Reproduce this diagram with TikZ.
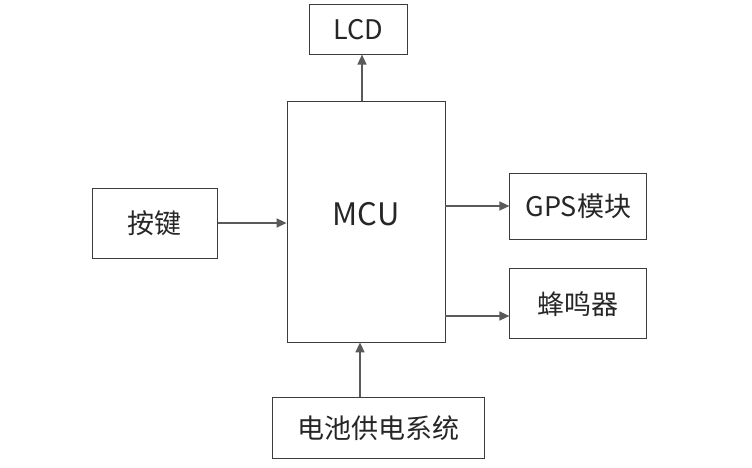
\documentclass[tikz,border=0pt]{standalone}
\usepackage{fontspec}
\setmainfont{Noto Sans CJK SC}
\usetikzlibrary{positioning,arrows.meta}
\definecolor{boxline}{HTML}{3C3C3C}
\definecolor{arrowgray}{HTML}{5A5A5A}

\begin{document}
\begin{tikzpicture}[x=1pt, y=-1pt]
  \tikzstyle{block} = [rectangle, draw=boxline, line width=0.8pt, inner sep=0pt,
                       font=\fontsize{27}{30}\selectfont, text=black!85]
  \tikzstyle{link} = [-{Triangle[length=10pt,width=9pt]}, draw=arrowgray, line width=1.5pt]

\useasboundingbox (0,0) rectangle (752,468);
\node[block, minimum width=158pt, minimum height=241pt,
      label={[font=\fontsize{31}{34}\selectfont, text=black!85, yshift=7pt]center:MCU}] (MCU) at (366,221.5) {};
\node[block, minimum width=98pt, minimum height=50pt, above=46pt of MCU, xshift=-8pt] (lcd) {LCD};
\node[block, minimum width=125pt, minimum height=70pt, left=69pt of MCU, yshift=-1.5pt] (keys) {按键};
\node[block, minimum width=137pt, minimum height=66pt, right=64pt of MCU, yshift=15.5pt] (gps) {GPS模块};
\node[block, minimum width=137pt, minimum height=70pt, below=29pt of gps] (buzzer) {蜂鸣器};
\node[block, minimum width=212pt, minimum height=61pt, below=55pt of MCU, xshift=12pt] (power) {电池供电系统};
\draw[link] ([xshift=-4pt]MCU.north) -- ([xshift=-4pt]MCU.north |- lcd.south);
\draw[link] (keys.east) -- (keys.east -| MCU.west);
\draw[link] (gps.west -| MCU.east) -- (gps.west);
\draw[link] ([yshift=-94.5pt]MCU.east) -- ([yshift=-94.5pt]MCU.east -| buzzer.west);
\draw[link] (power.north -| MCU.south) ++(-6pt,0) coordinate (pw) -- (pw |- MCU.south);
\end{tikzpicture}
\end{document}
